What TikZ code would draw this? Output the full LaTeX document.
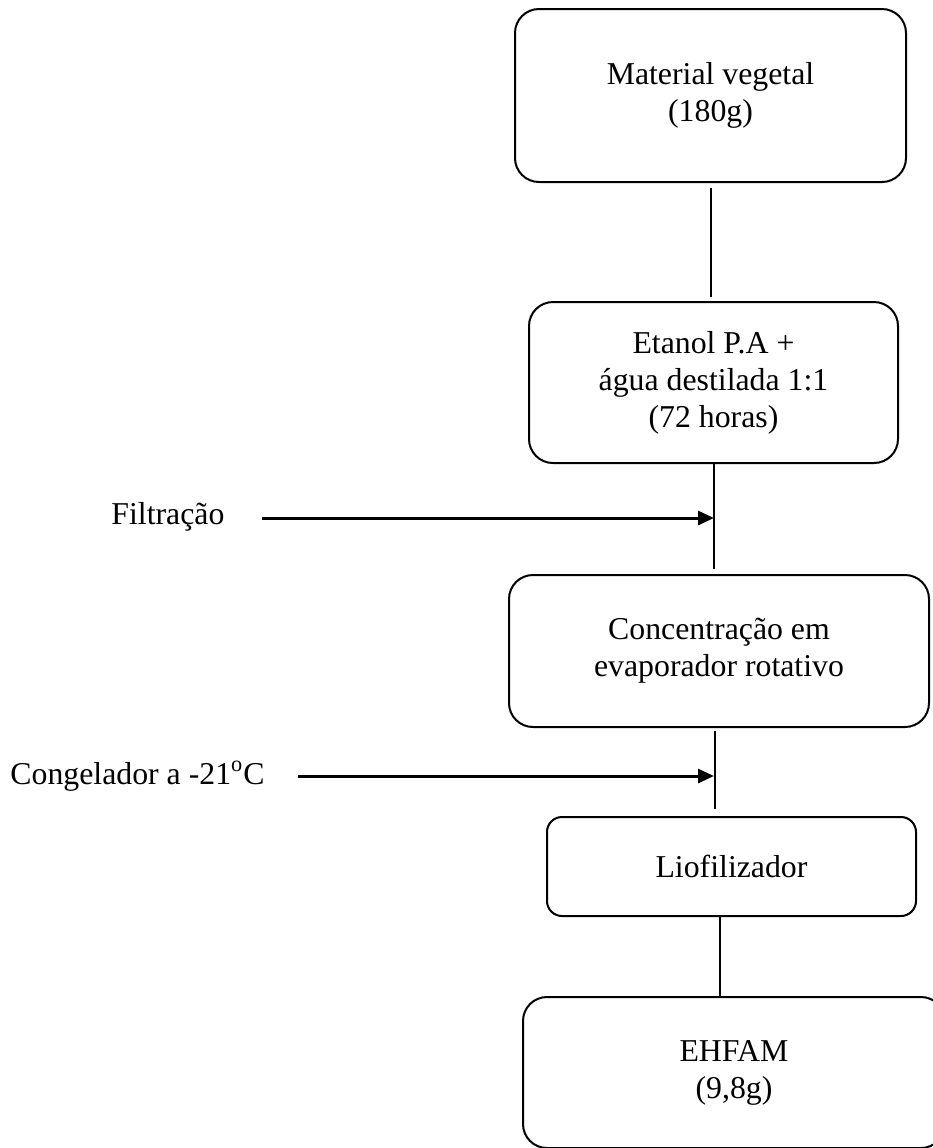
\documentclass[tikz,border=0pt]{standalone}
\usepackage{fontspec}
\setmainfont{Liberation Serif}
\usetikzlibrary{arrows.meta}
\newcommand{\fx}{\fontsize{15.9}{18.5}\selectfont}

\begin{document}
\begin{tikzpicture}[x=0.5pt,y=-0.5pt,
   caixa/.style={draw,line width=1pt,rounded corners=12pt,align=center,inner sep=0pt,font=\fx},
   rotulo/.style={anchor=west,inner sep=0pt,font=\fx},
   liga/.style={line width=1pt},
   seta/.style={line width=1.5pt,-{Triangle[length=8pt,width=7pt]}}]
   \clip (0,0) rectangle (933,1148);
   \node[caixa,minimum width=195.5pt,minimum height=86.5pt] (mat) at (710.5,95.5) {Material vegetal\\(180g)};
   \node[caixa,minimum width=184.5pt,minimum height=80.5pt] (eta) at (713.5,382.5) {Etanol P.A +\\\'agua destilada 1:1\\(72 horas)};
   \node[caixa,minimum width=210pt,minimum height=76pt] (conc) at (719,651) {Concentra\c{c}\~ao em\\evaporador rotativo};
   \node[caixa,minimum width=184.5pt,minimum height=49.5pt,rounded corners=7.5pt] (liof) at (731.5,866.5) {Liofilizador};
   \node[caixa,minimum width=211pt,minimum height=75.5pt] (ehf) at (734,1072.5) {EHFAM\\(9,8g)};
   \node[rotulo] (filt) at (111,517) {Filtra\c{c}\~ao};
   \node[rotulo] (cong) at (10,776) {Congelador a -21\textsuperscript{o}C};
   \coordinate (filA) at (262,518);
   \coordinate (filB) at (714,518);
   \coordinate (conA) at (298,776);
   \coordinate (conB) at (714,776);
   \draw[liga,shorten <=2.5pt,shorten >=2pt] (mat.south) -- (mat.south |- eta.north);
   \draw[liga,shorten >=2.5pt] (eta.south) -- (eta.south |- conc.north);
   \draw[liga,shorten <=1.5pt,shorten >=3.5pt] ([xshift=-2pt]conc.south) -- ([xshift=-2pt]conc.south |- liof.north);
   \draw[liga] ([xshift=-6pt]liof.south) -- ([xshift=-6pt]liof.south |- ehf.north);
   \draw[seta] (filA) -- (filB);
   \draw[seta] (conA) -- (conB);
\end{tikzpicture}
\end{document}
